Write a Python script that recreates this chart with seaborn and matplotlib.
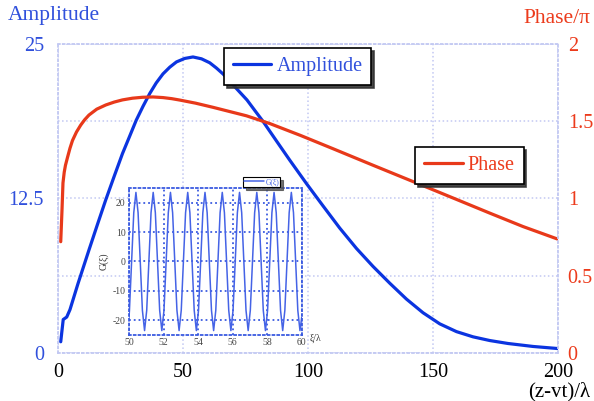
import matplotlib
matplotlib.use("Agg")
import matplotlib.pyplot as plt
import seaborn as sns

# main curves
amp_x = [1.1, 2.1, 3.5, 4.8, 8, 12.4, 15.8, 19.1, 22.5, 25.8, 28.5, 31.3, 34, 36.7, 39.3,
         42, 44.7, 47.4, 50.7, 54, 57.4, 60.7, 63.4, 66.1, 70.9, 75.6, 78.8, 82, 87.4,
         92.7, 99.4, 106, 112.7, 119.4, 126, 132.7, 139.4, 146, 152.7, 159.4, 166,
         172.7, 180, 190, 200]
amp_y = [0.9, 2.7, 2.9, 3.5, 5.6, 8.33, 10.4, 12.38, 14.3, 16.13, 17.45, 18.83, 19.95,
         20.99, 21.85, 22.58, 23.12, 23.55, 23.83, 23.95, 23.8, 23.48, 23.05, 22.56, 21.5,
         20.47, 19.6, 18.74, 17.15, 15.6, 13.7, 11.9, 10.1, 8.45, 7.0, 5.64, 4.35, 3.25,
         2.35, 1.72, 1.3, 1.0, 0.76, 0.52, 0.35]

phase_x = [1.1, 1.6, 2.0, 2.5, 3.0, 3.8, 4.8, 5.8, 7.4, 9.1, 10.7, 12.4, 15.5, 19.1, 22.5,
           25.8, 29.8, 33.8, 38, 42, 45.5, 48.7, 55, 62, 75.4, 84.7, 97, 110, 126, 143.4,
           158, 172.7, 186, 200]
phase_y = [0.72, 0.92, 1.10, 1.17, 1.215, 1.265, 1.325, 1.375, 1.43, 1.475, 1.51, 1.54,
           1.578, 1.605, 1.624, 1.638, 1.649, 1.655, 1.657, 1.653, 1.646, 1.637, 1.617,
           1.59, 1.535, 1.485, 1.408, 1.322, 1.215, 1.10, 1.003, 0.905, 0.818, 0.736]

# inset G(xi)
inset_x = [50.0,
           50.025, 50.15, 50.275, 50.4, 50.525, 50.65, 50.775, 50.9,
           51.025, 51.15, 51.275, 51.4, 51.525, 51.65, 51.775, 51.9,
           52.025, 52.15, 52.275, 52.4, 52.525, 52.65, 52.775, 52.9,
           53.025, 53.15, 53.275, 53.4, 53.525, 53.65, 53.775, 53.9,
           54.025, 54.15, 54.275, 54.4, 54.525, 54.65, 54.775, 54.9,
           55.025, 55.15, 55.275, 55.4, 55.525, 55.65, 55.775, 55.9,
           56.025, 56.15, 56.275, 56.4, 56.525, 56.65, 56.775, 56.9,
           57.025, 57.15, 57.275, 57.4, 57.525, 57.65, 57.775, 57.9,
           58.025, 58.15, 58.275, 58.4, 58.525, 58.65, 58.775, 58.9,
           59.025, 59.15, 59.275, 59.4, 59.525, 59.65, 59.775, 59.9,
           60.0]
inset_g = [-19.0,
           -16.6, 0.0, 16.6, 23.5, 16.6, 0.0, -16.6, -23.5,
           -16.6, 0.0, 16.6, 23.5, 16.6, 0.0, -16.6, -23.5,
           -16.6, 0.0, 16.6, 23.5, 16.6, 0.0, -16.6, -23.5,
           -16.6, 0.0, 16.6, 23.5, 16.6, 0.0, -16.6, -23.5,
           -16.6, 0.0, 16.6, 23.5, 16.6, 0.0, -16.6, -23.5,
           -16.6, 0.0, 16.6, 23.5, 16.6, 0.0, -16.6, -23.5,
           -16.6, 0.0, 16.6, 23.5, 16.6, 0.0, -16.6, -23.5,
           -16.6, 0.0, 16.6, 23.5, 16.6, 0.0, -16.6, -23.5,
           -16.6, 0.0, 16.6, 23.5, 16.6, 0.0, -16.6, -23.5,
           -16.6, 0.0, 16.6, 23.5, 16.6, 0.0, -16.6, -23.5,
           -19.0]

x_ticks = [0, 50, 100, 150, 200]
amp_ticks = [0, 6.25, 12.5, 18.75, 25]
amp_labels = ["0", "", "12.5", "", "25"]
phase_ticks = [0, 0.5, 1, 1.5, 2]
phase_labels = ["0", "0.5", "1", "1.5", "2"]

BLUE = "#0b34e0"
RED = "#e8391a"
BLUE_TXT = "#3050dc"
RED_TXT = "#ec3b1c"
GRID = "#c2c8f2"
INSET_BLUE = "#4563e6"

sns.set_style("white")
plt.rcParams["font.family"] = ["Liberation Serif", "DejaVu Serif"]
plt.rcParams["axes.unicode_minus"] = False

fig = plt.figure(figsize=(5.94, 4.01), dpi=100)
ax1 = fig.add_axes([0.0976, 0.120, 0.8418, 0.7703])
ax2 = ax1.twinx()

sns.lineplot(x=amp_x, y=amp_y, ax=ax1, color=BLUE, lw=2.3, label="Amplitude")
sns.lineplot(x=phase_x, y=phase_y, ax=ax2, color=RED, lw=2.3, label="Phase")

ax1.set_xlim(0, 200)
ax1.set_ylim(0, 25)
ax2.set_ylim(0, 2)
ax1.set_xticks(x_ticks)
ax1.set_yticks(amp_ticks, labels=amp_labels)
ax2.set_yticks(phase_ticks, labels=phase_labels)
ax1.grid(True, color=GRID, ls=":", lw=1.1)
ax2.grid(False)
ax1.tick_params(axis="y", colors=BLUE_TXT, length=0, pad=10, labelsize=14.5)
ax1.tick_params(axis="x", colors="black", length=0, pad=7, labelsize=14.5)
ax2.tick_params(axis="y", colors=RED_TXT, length=0, pad=7, labelsize=14.5)
for sp in ax1.spines.values():
    sp.set_visible(False)
for sp in ax2.spines.values():
    sp.set_linestyle(":")
    sp.set_color(GRID)
    sp.set_linewidth(1.3)

fig.text(0.013, 0.962, "Amplitude", color=BLUE_TXT, fontsize=15.5, va="center", ha="left")
fig.text(0.993, 0.955, "Phase/π", color=RED_TXT, fontsize=15.5, va="center", ha="right")
fig.text(0.993, 0.022, "(z-vt)/λ", color="black", fontsize=15, va="center", ha="right")

leg_kw = dict(loc="upper left", bbox_transform=fig.transFigure, fancybox=False,
              edgecolor="black", framealpha=1, borderaxespad=0)
leg1 = ax1.legend(bbox_to_anchor=(0.377, 0.880), shadow={"color": "0.2", "alpha": 0.9},
                  fontsize=14.5, labelcolor=BLUE_TXT, handlelength=1.9,
                  borderpad=0.45, handletextpad=0.25, **leg_kw)
leg1.get_frame().set_linewidth(1.2)
leg2 = ax2.legend(bbox_to_anchor=(0.699, 0.633), shadow={"color": "0.2", "alpha": 0.9},
                  fontsize=14.5, labelcolor=RED_TXT, handlelength=1.9,
                  borderpad=0.45, handletextpad=0.25, **leg_kw)
leg2.get_frame().set_linewidth(1.2)

# inset
axin = fig.add_axes([0.2172, 0.1646, 0.2907, 0.3666])
axin.set_facecolor("white")
sns.lineplot(x=inset_x, y=inset_g, ax=axin, color=INSET_BLUE, lw=1.1, label="G(ξ)")
axin.set_xlim(50, 60)
axin.set_ylim(-25, 25)
axin.set_xticks([50, 52, 54, 56, 58, 60])
axin.set_yticks([-20, -10, 0, 10, 20])
axin.grid(True, color="#3a5ae0", ls=":", lw=1.3)
for sp in axin.spines.values():
    sp.set_linestyle(":")
    sp.set_color("#3a5ae0")
    sp.set_linewidth(1.3)
axin.tick_params(length=0, pad=2.5, labelsize=7, colors="#444444")
axin.set_ylabel("G(ξ)", fontsize=7, color="#333333", labelpad=3)
axin.set_xlabel("")
axin.text(1.045, -0.02, "ξ/λ", transform=axin.transAxes, ha="left", va="center",
          fontsize=7, color="#333333")
leg3 = axin.legend(bbox_to_anchor=(0.409, 0.559), shadow={"color": "0.3", "alpha": 0.8},
                   fontsize=5.5, labelcolor=INSET_BLUE, handlelength=2.6,
                   borderpad=0.15, handletextpad=0.2, **leg_kw)
leg3.get_frame().set_linewidth(0.8)

fig.savefig("out.png", dpi=100)
